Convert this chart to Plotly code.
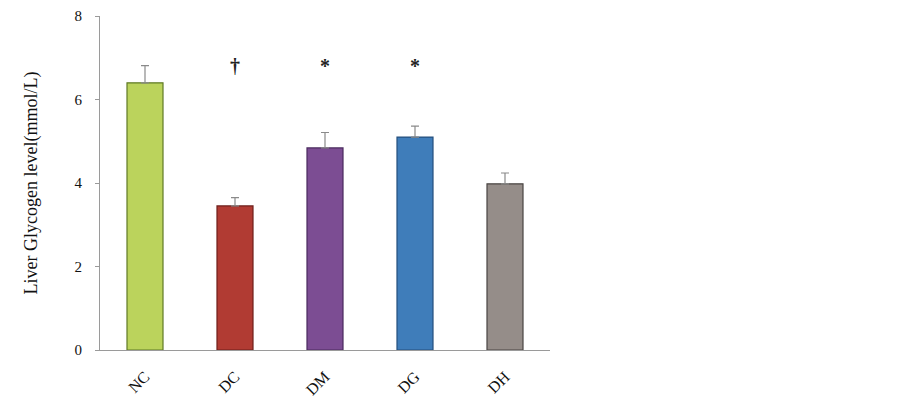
import plotly.graph_objects as go

groups = ["NC", "DC", "DM", "DG", "DH"]
glycogen = [6.40, 3.45, 4.84, 5.10, 3.98]
sem = [0.41, 0.20, 0.37, 0.26, 0.26]
marks = ["", "†", "*", "*", ""]
mark_level = 6.8

fill = ["#bbd35c", "#b13b33", "#7c4d93", "#3f7dba", "#958d89"]
edge = ["#5f7a25", "#6e1e1a", "#4a2a5e", "#244f7d", "#4a4543"]

fig = go.Figure()
fig.add_trace(go.Bar(
    x=groups, y=glycogen, width=0.4,
    marker=dict(color=fill, line=dict(color=edge, width=1.2)),
    error_y=dict(type="data", array=sem, arrayminus=[0] * len(sem),
                 symmetric=False, color="#8a8a8a", thickness=1.2, width=4),
    showlegend=False,
))

for g, m in zip(groups, marks):
    if m:
        fig.add_annotation(x=g, y=mark_level, text="<b>" + m + "</b>", showarrow=False,
                           font=dict(family="Liberation Serif", size=20, color="#222222"))

# page body has an 8px margin, so the figure box is shifted by 8px
fig.update_layout(
    width=902, height=407,
    margin=dict(l=92, r=360, t=8, b=65),
    plot_bgcolor="white", paper_bgcolor="white",
    font=dict(family="Liberation Serif", size=16, color="#111111"),
)
fig.update_xaxes(range=[-0.5, 4.5], showline=True, linecolor="#9a9a9a", linewidth=1.2,
                 tickangle=-45, ticks="", showgrid=False, tickfont=dict(size=16),
                 ticklabelstandoff=10, automargin=False)
fig.update_yaxes(range=[0, 8], tickvals=[0, 2, 4, 6, 8], showline=True, linecolor="#9a9a9a",
                 linewidth=1.2, ticks="outside", ticklen=4, tickcolor="#9a9a9a", showgrid=False,
                 zeroline=False, automargin=False, ticklabelstandoff=10,
                 ticklabeloverflow="allow", tickfont=dict(size=15),
                 title=dict(text="Liver Glycogen level(mmol/L)", standoff=32,
                            font=dict(size=18)))

fig.write_html("out.html")
